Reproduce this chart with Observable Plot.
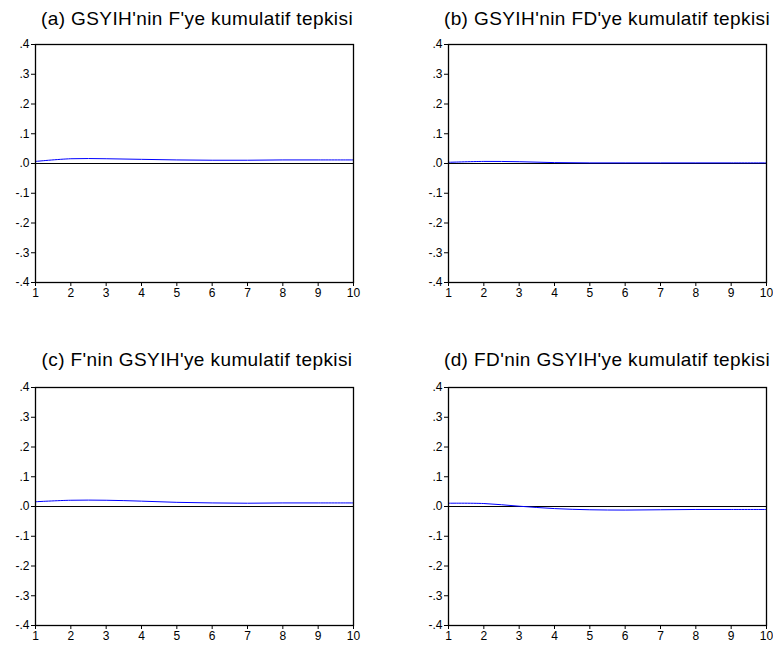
<!DOCTYPE html>
<html>
<head>
<meta charset="utf-8">
<script src="https://cdn.jsdelivr.net/npm/d3@7"></script>
<script src="https://cdn.jsdelivr.net/npm/@observablehq/plot@0.6"></script>
<style>
  html, body { margin: 0; padding: 0; background: #fff; }
  #root { position: relative; width: 773px; height: 650px; overflow: hidden; font-family: "Liberation Sans", Arial, sans-serif; }
  .panel-svg { position: absolute; }
  .title { position: absolute; white-space: nowrap; transform: translateX(-50%); font-size: 19px; letter-spacing: 0.4px; color: #000; line-height: 1; }
</style>
</head>
<body>
<div id="root"></div>
<script>
const periods = [1, 2, 3, 4, 5, 6, 7, 8, 9, 10];
const respA = [0.007, 0.016, 0.016, 0.014, 0.012, 0.011, 0.011, 0.012, 0.012, 0.012];
const respB = [0.004, 0.007, 0.006, 0.003, 0.002, 0.002, 0.002, 0.002, 0.002, 0.002];
const respC = [0.016, 0.021, 0.021, 0.018, 0.014, 0.012, 0.011, 0.012, 0.012, 0.012];
const respD = [0.011, 0.010, 0.001, -0.007, -0.011, -0.012, -0.011, -0.010, -0.010, -0.010];
const titles = [
  "(a) GSYIH'nin F'ye kumulatif tepkisi",
  "(b) GSYIH'nin FD'ye kumulatif tepkisi",
  "(c) F'nin GSYIH'ye kumulatif tepkisi",
  "(d) FD'nin GSYIH'ye kumulatif tepkisi"
];
const yTicks = [-0.4, -0.3, -0.2, -0.1, 0, 0.1, 0.2, 0.3, 0.4];
const yTickLabels = ["-.4", "-.3", "-.2", "-.1", ".0", ".1", ".2", ".3", ".4"];
const xTicks = [1, 2, 3, 4, 5, 6, 7, 8, 9, 10];

const series = [respA, respB, respC, respD];
const root = document.getElementById("root");

// panel placement: [svgLeft, svgTop]
const places = [[0, 30], [413, 30], [0, 373], [413, 373]];
const W = 362, H = 274, ML = 35, MR = 9, MT = 14, MB = 22;

series.forEach((vals, i) => {
  const data = periods.map((p, j) => ({period: p, value: vals[j]}));
  const chart = Plot.plot({
    width: W, height: H,
    marginLeft: ML, marginRight: MR, marginTop: MT, marginBottom: MB,
    style: {fontFamily: "Liberation Sans, Arial, sans-serif", fontSize: "12px", background: "white", color: "black"},
    x: {domain: [1, 10]},
    y: {domain: [-0.4, 0.4]},
    marks: [
      Plot.axisX({ticks: xTicks, tickSize: 4, tickPadding: 2, tickFormat: d => String(d), label: null, fontSize: 12}),
      Plot.axisY({ticks: yTicks, tickSize: 4, tickPadding: 2, tickFormat: d => yTickLabels[yTicks.findIndex(t => Math.abs(t - d) < 1e-9)], label: null, fontSize: 12}),
      Plot.ruleY([0], {stroke: "black", strokeWidth: 1}),
      Plot.line(data, {x: "period", y: "value", stroke: "#0000ff", strokeWidth: 1, curve: "catmull-rom"}),
      Plot.frame({stroke: "black", strokeWidth: 1.3})
    ]
  });
  chart.classList.add("panel-svg");
  chart.style.left = places[i][0] + "px";
  chart.style.top = places[i][1] + "px";
  root.appendChild(chart);

  const t = document.createElement("div");
  t.className = "title";
  t.textContent = titles[i];
  const frameCenter = places[i][0] + ML + (W - ML - MR) / 2;
  t.style.left = (frameCenter + (i % 2 === 0 ? 3 : 0)) + "px";
  t.style.top = (i < 2 ? 9 : 350) + "px";
  root.appendChild(t);
});
</script>
</body>
</html>
